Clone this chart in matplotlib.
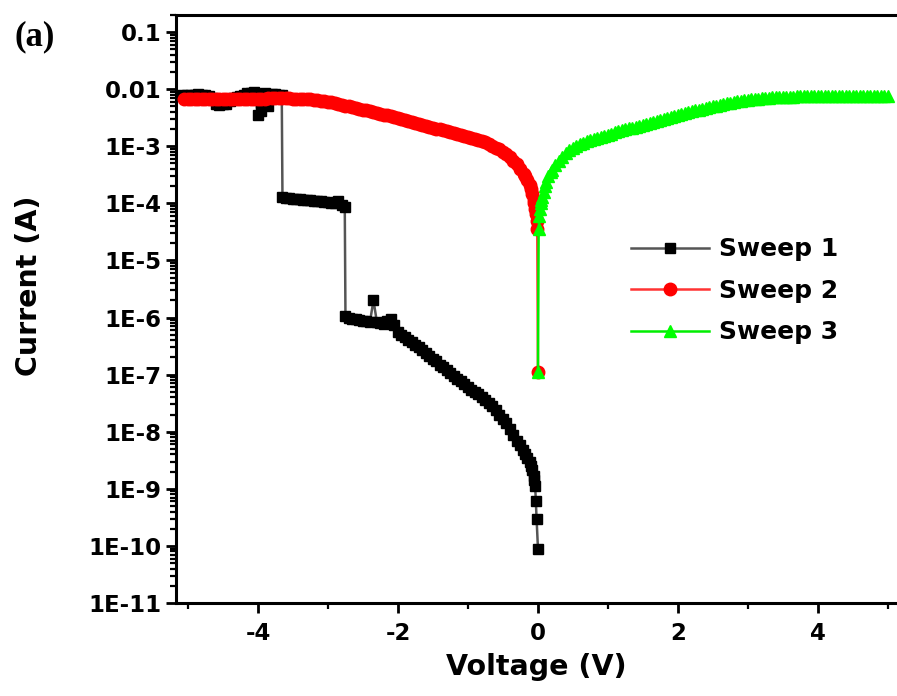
import matplotlib
matplotlib.use("Agg")
import matplotlib.pyplot as plt
from matplotlib.ticker import LogLocator, FixedLocator, NullFormatter, FixedFormatter

# ---- data ----
v1 = [-5.08, -5.02, -4.96, -4.90, -4.85, -4.80, -4.75, -4.70, -4.65, -4.60, -4.55,
      -4.50, -4.45, -4.40, -4.35, -4.30, -4.25, -4.20, -4.15, -4.10, -4.05, -4.00,
      -3.95, -3.90, -3.85, -3.80, -3.75, -3.70, -3.66,
      -3.65, -3.60, -3.55, -3.50, -3.45, -3.40, -3.35, -3.30, -3.25, -3.20, -3.15,
      -3.10, -3.05, -3.00, -2.95, -2.90, -2.85, -2.80, -2.76,
      -2.75, -2.70, -2.65, -2.60, -2.55, -2.50, -2.45, -2.40, -2.35, -2.30, -2.25,
      -2.20, -2.15, -2.10, -2.05, -2.00, -1.95, -1.90, -1.85, -1.80, -1.75, -1.70,
      -1.65, -1.60, -1.55, -1.50, -1.45, -1.40, -1.35, -1.30, -1.25, -1.20, -1.15,
      -1.10, -1.05, -1.00, -0.95, -0.90, -0.85, -0.80, -0.75, -0.70, -0.65, -0.60,
      -0.55, -0.50, -0.45, -0.40, -0.35, -0.30, -0.26, -0.22, -0.18, -0.15, -0.12,
      -0.10, -0.08, -0.06, -0.05, -0.04, -0.03, -0.02, 0.00]
i1 = [8.0e-3, 8.0e-3, 7.8e-3, 8.0e-3, 8.1e-3, 7.9e-3, 8.0e-3, 7.6e-3, 7.0e-3, 5.6e-3, 5.3e-3,
      5.5e-3, 5.4e-3, 6.3e-3, 7.0e-3, 7.3e-3, 7.6e-3, 8.0e-3, 8.4e-3, 8.7e-3, 9.0e-3, 3.6e-3,
      4.2e-3, 8.6e-3, 5.0e-3, 8.3e-3, 8.2e-3, 8.0e-3, 7.8e-3,
      1.3e-4, 1.25e-4, 1.23e-4, 1.2e-4, 1.19e-4, 1.18e-4, 1.16e-4, 1.15e-4, 1.13e-4, 1.12e-4, 1.1e-4,
      1.08e-4, 1.06e-4, 1.05e-4, 1.02e-4, 1.0e-4, 1.1e-4, 9.5e-5, 8.8e-5,
      1.05e-6, 1.0e-6, 9.6e-7, 9.3e-7, 9.0e-7, 8.8e-7, 8.6e-7, 8.4e-7, 2.0e-6, 8.2e-7, 8.0e-7,
      7.6e-7, 8.6e-7, 9.3e-7, 7.5e-7, 5.6e-7, 5.0e-7, 4.5e-7, 4.1e-7, 3.7e-7, 3.3e-7, 3.0e-7,
      2.7e-7, 2.4e-7, 2.15e-7, 1.9e-7, 1.7e-7, 1.5e-7, 1.35e-7, 1.2e-7, 1.07e-7, 9.5e-8, 8.5e-8,
      7.6e-8, 6.8e-8, 6.0e-8, 5.4e-8, 4.9e-8, 4.5e-8, 4.1e-8, 3.6e-8, 3.2e-8, 2.8e-8, 2.4e-8,
      2.0e-8, 1.7e-8, 1.4e-8, 1.1e-8, 8.8e-9, 7.0e-9, 5.8e-9, 4.8e-9, 4.0e-9, 3.4e-9, 2.9e-9,
      2.5e-9, 2.1e-9, 1.7e-9, 1.4e-9, 1.1e-9, 6.0e-10, 3.0e-10, 9.0e-11]

v2 = [0.00, -0.01, -0.02, -0.03, -0.04, -0.05, -0.06, -0.08, -0.10, -0.12, -0.15,
      -0.18, -0.20, -0.25, -0.30, -0.35, -0.40, -0.45, -0.50, -0.55, -0.60, -0.65,
      -0.70, -0.75, -0.80, -0.85, -0.90, -0.95, -1.00, -1.05, -1.10, -1.15, -1.20,
      -1.25, -1.30, -1.35, -1.40, -1.45, -1.50, -1.55, -1.60, -1.65, -1.70, -1.75,
      -1.80, -1.85, -1.90, -1.95, -2.00, -2.05, -2.10, -2.15, -2.20, -2.25, -2.30,
      -2.35, -2.40, -2.45, -2.50, -2.55, -2.60, -2.65, -2.70, -2.75, -2.80, -2.85,
      -2.90, -2.95, -3.00, -3.05, -3.10, -3.15, -3.20, -3.25, -3.30, -3.35, -3.40,
      -3.45, -3.50, -3.55, -3.60, -3.65, -3.70, -3.75, -3.80, -3.85, -3.90, -3.95,
      -4.00, -4.05, -4.10, -4.15, -4.20, -4.25, -4.30, -4.35, -4.40, -4.45, -4.50,
      -4.55, -4.60, -4.65, -4.70, -4.75, -4.80, -4.85, -4.90, -4.95, -5.00, -5.05]
i2 = [1.1e-7, 3.5e-5, 5.0e-5, 6.5e-5, 8.0e-5, 1.0e-4, 1.15e-4, 1.45e-4, 1.8e-4, 2.1e-4, 2.6e-4,
      3.0e-4, 3.3e-4, 4.0e-4, 4.8e-4, 5.5e-4, 6.4e-4, 7.2e-4, 8.0e-4, 8.8e-4, 9.5e-4, 1.02e-3,
      1.1e-3, 1.17e-3, 1.23e-3, 1.3e-3, 1.36e-3, 1.42e-3, 1.48e-3, 1.54e-3, 1.6e-3, 1.66e-3, 1.72e-3,
      1.78e-3, 1.85e-3, 1.91e-3, 1.97e-3, 2.03e-3, 2.1e-3, 2.17e-3, 2.25e-3, 2.35e-3, 2.45e-3, 2.58e-3,
      2.7e-3, 2.8e-3, 2.9e-3, 3.0e-3, 3.1e-3, 3.22e-3, 3.35e-3, 3.47e-3, 3.6e-3, 3.72e-3, 3.85e-3,
      3.97e-3, 4.1e-3, 4.25e-3, 4.4e-3, 4.55e-3, 4.7e-3, 4.85e-3, 5.0e-3, 5.17e-3, 5.35e-3, 5.52e-3,
      5.7e-3, 5.85e-3, 6.0e-3, 6.15e-3, 6.3e-3, 6.42e-3, 6.55e-3, 6.62e-3, 6.7e-3, 6.75e-3, 6.8e-3,
      6.82e-3, 6.85e-3, 6.87e-3, 6.9e-3, 6.9e-3, 6.9e-3, 6.9e-3, 6.88e-3, 6.88e-3, 6.86e-3, 6.85e-3,
      6.85e-3, 6.83e-3, 6.82e-3, 6.8e-3, 6.8e-3, 6.78e-3, 6.76e-3, 6.75e-3, 6.74e-3, 6.72e-3, 6.7e-3,
      6.7e-3, 6.68e-3, 6.67e-3, 6.66e-3, 6.65e-3, 6.64e-3, 6.63e-3, 6.62e-3, 6.61e-3, 6.6e-3, 6.6e-3]

v3 = [0.00, 0.01, 0.02, 0.03, 0.04, 0.05, 0.06, 0.08, 0.10, 0.12, 0.15, 0.18,
      0.20, 0.25, 0.30, 0.35, 0.40, 0.45, 0.50, 0.55, 0.60, 0.65, 0.70, 0.75,
      0.80, 0.85, 0.90, 0.95, 1.00, 1.05, 1.10, 1.15, 1.20, 1.25, 1.30, 1.35,
      1.40, 1.45, 1.50, 1.55, 1.60, 1.65, 1.70, 1.75, 1.80, 1.85, 1.90, 1.95,
      2.00, 2.05, 2.10, 2.15, 2.20, 2.25, 2.30, 2.35, 2.40, 2.45, 2.50, 2.55,
      2.60, 2.65, 2.70, 2.75, 2.80, 2.85, 2.90, 2.95, 3.00, 3.05, 3.10, 3.15,
      3.20, 3.25, 3.30, 3.35, 3.40, 3.45, 3.50, 3.55, 3.60, 3.65, 3.70, 3.75,
      3.80, 3.85, 3.90, 3.95, 4.00, 4.05, 4.10, 4.15, 4.20, 4.25, 4.30, 4.35,
      4.40, 4.45, 4.50, 4.55, 4.60, 4.65, 4.70, 4.75, 4.80, 4.85, 4.90, 4.95, 5.00]
i3 = [1.1e-7, 3.5e-5, 6.0e-5, 8.0e-5, 1.0e-4, 1.15e-4, 1.3e-4, 1.6e-4, 2.0e-4, 2.4e-4, 3.0e-4, 3.5e-4,
      3.8e-4, 4.7e-4, 5.6e-4, 6.6e-4, 7.5e-4, 8.5e-4, 9.3e-4, 1.0e-3, 1.08e-3, 1.15e-3, 1.22e-3, 1.28e-3,
      1.35e-3, 1.42e-3, 1.48e-3, 1.54e-3, 1.6e-3, 1.67e-3, 1.75e-3, 1.82e-3, 1.9e-3, 1.97e-3, 2.05e-3, 2.12e-3,
      2.2e-3, 2.3e-3, 2.4e-3, 2.5e-3, 2.6e-3, 2.7e-3, 2.8e-3, 2.9e-3, 3.0e-3, 3.12e-3, 3.25e-3, 3.37e-3,
      3.5e-3, 3.65e-3, 3.8e-3, 3.95e-3, 4.1e-3, 4.25e-3, 4.4e-3, 4.55e-3, 4.7e-3, 4.85e-3, 5.0e-3, 5.15e-3,
      5.3e-3, 5.47e-3, 5.65e-3, 5.8e-3, 5.95e-3, 6.1e-3, 6.25e-3, 6.37e-3, 6.5e-3, 6.62e-3, 6.75e-3, 6.85e-3,
      6.95e-3, 7.02e-3, 7.1e-3, 7.17e-3, 7.25e-3, 7.3e-3, 7.35e-3, 7.38e-3, 7.4e-3, 7.42e-3, 7.45e-3, 7.45e-3,
      7.45e-3, 7.45e-3, 7.45e-3, 7.45e-3, 7.45e-3, 7.45e-3, 7.45e-3, 7.45e-3, 7.45e-3, 7.45e-3, 7.45e-3, 7.45e-3,
      7.45e-3, 7.45e-3, 7.45e-3, 7.45e-3, 7.45e-3, 7.45e-3, 7.45e-3, 7.45e-3, 7.45e-3, 7.45e-3, 7.45e-3, 7.45e-3, 7.45e-3]

y_ticks = [1e-11, 1e-10, 1e-9, 1e-8, 1e-7, 1e-6, 1e-5, 1e-4, 1e-3, 1e-2, 1e-1]
y_labels = ["1E-11", "1E-10", "1E-9", "1E-8", "1E-7", "1E-6", "1E-5", "1E-4", "1E-3", "0.01", "0.1"]
x_ticks = [-4, -2, 0, 2, 4]
x_labels = ["-4", "-2", "0", "2", "4"]
labels = ["Sweep 1", "Sweep 2", "Sweep 3"]

# ---- figure ----
plt.rcParams['font.family'] = ['DejaVu Sans']
fig = plt.figure(figsize=(8.97, 6.96), dpi=100)
ax = fig.add_axes([0.1962, 0.1336, 0.8038, 0.845])

ax.plot(v1, i1, color="#555555", lw=1.8, marker="s", ms=7.6,
        mfc="black", mec="black", label=labels[0], zorder=3)
ax.plot(v2, i2, color="#ff3333", lw=1.8, marker="o", ms=9,
        mfc="#ff0000", mec="#ff0000", label=labels[1], zorder=4)
ax.plot(v3, i3, color="#00ee00", lw=1.8, marker="^", ms=9,
        mfc="#00ff00", mec="#00ff00", label=labels[2], zorder=5)

ax.set_yscale("log")
ax.set_xlim(-5.171, 5.129)
ax.set_ylim(1e-11, 0.2)

ax.yaxis.set_major_locator(FixedLocator(y_ticks))
ax.yaxis.set_major_formatter(FixedFormatter(y_labels))
ax.yaxis.set_minor_locator(LogLocator(base=10, subs=range(2, 10), numticks=30))
ax.yaxis.set_minor_formatter(NullFormatter())
ax.xaxis.set_major_locator(FixedLocator(x_ticks))
ax.xaxis.set_major_formatter(FixedFormatter(x_labels))
ax.xaxis.set_minor_locator(FixedLocator([-5, -3, -1, 1, 3, 5]))

for side in ["left", "bottom", "top"]:
    ax.spines[side].set_linewidth(2.2)
ax.spines["right"].set_visible(False)

ax.tick_params(axis="both", which="major", direction="out", length=7.5, width=2.0,
               labelsize=16.5, pad=3, top=False, right=False)
ax.tick_params(axis="both", which="minor", direction="out", length=4, width=1.6,
               top=False, right=False)
ax.tick_params(axis="x", which="major", pad=6)
for lab in ax.get_xticklabels() + ax.get_yticklabels():
    lab.set_fontweight("bold")

ax.set_xlabel("Voltage (V)", fontsize=20.5, fontweight="bold", labelpad=6)
ax.set_ylabel("Current (A)", fontsize=20.5, fontweight="bold")
ax.yaxis.set_label_coords(-0.184, 0.54)

leg = ax.legend(loc="upper left", bbox_to_anchor=(0.6, 0.66), frameon=False,
                prop={"weight": "bold", "size": 18}, handlelength=3.1,
                handletextpad=0.4, labelspacing=0.7)

fig.text(0.016, 0.935, "(a)", fontsize=25, fontweight="bold",
         family=["Liberation Serif", "DejaVu Serif"])

fig.savefig("out.png", dpi=100)
